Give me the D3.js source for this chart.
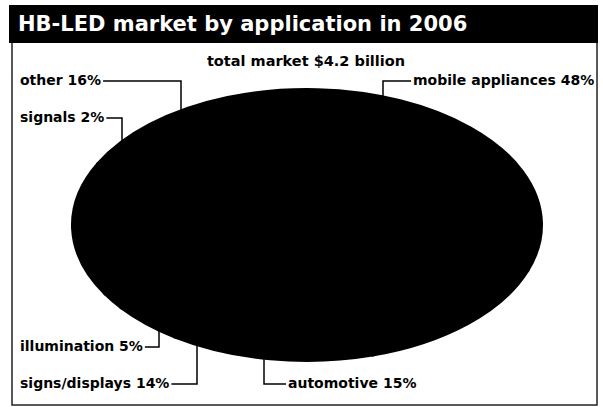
<!DOCTYPE html>
<html lang="en">
<head>
<meta charset="utf-8">
<title>HB-LED market by application in 2006</title>
<script src="https://d3js.org/d3.v7.min.js"></script>
<style>
  body { margin: 0; background: #fff; }
  text { font-family: "DejaVu Sans", "Liberation Sans", Arial, sans-serif; font-weight: bold; }
</style>
</head>
<body>
<script>
// data
var categories = ["mobile appliances", "automotive", "signs/displays", "illumination", "signals", "other"];
var shares = [48, 15, 14, 5, 2, 16];
var title = "HB-LED market by application in 2006";
var subtitle = "total market $4.2 billion";

// label placement (layout only): text position, elbow x on ellipse, side
var labelPos = {
  "mobile appliances": {x: 413, y: 85, elbow: 383, edge: "top"},
  "automotive":        {x: 288, y: 388, elbow: 264, edge: "bottom"},
  "signs/displays":    {x: 20, y: 388, elbow: 197, edge: "bottom"},
  "illumination":      {x: 20, y: 351, elbow: 159, edge: "bottom"},
  "signals":           {x: 20, y: 122, elbow: 122, edge: "top"},
  "other":             {x: 20, y: 85, elbow: 181, edge: "top"}
};

var w = 603, h = 407;
var svg = d3.select("body").append("svg").attr("width", w).attr("height", h);

// frame
svg.append("rect").attr("x", 12).attr("y", 40).attr("width", 585).attr("height", 365)
  .attr("fill", "none").attr("stroke", "#222").attr("stroke-width", 1.5);
svg.append("rect").attr("x", 9).attr("y", 5).attr("width", 589).attr("height", 38).attr("fill", "#000");
svg.append("text").attr("x", 18).attr("y", 31).attr("fill", "#fff")
  .style("font-size", "21px").text(title);
svg.append("text").attr("x", 306).attr("y", 66).attr("text-anchor", "middle")
  .style("font-size", "14.5px").text(subtitle);

// pie drawn as an ellipse
var cx = 307, cy = 225, rx = 235, ry = 136;
var pie = d3.pie().sort(null).value(function(d) { return d; })
  .startAngle(-0.35 * Math.PI).endAngle(1.65 * Math.PI);
var arc = d3.arc().innerRadius(0).outerRadius(ry);
var g = svg.append("g").attr("transform", "translate(" + cx + "," + cy + ") scale(" + (rx / ry) + ",1)");
g.selectAll("path").data(pie(shares)).enter().append("path")
  .attr("d", arc).attr("fill", "#000").attr("stroke", "#000")
  .attr("vector-effect", "non-scaling-stroke").attr("stroke-width", 2);

// labels with elbow leader lines
categories.forEach(function(c, i) {
  var p = labelPos[c];
  var t = svg.append("text").attr("x", p.x).attr("y", p.y)
    .style("font-size", "14px").text(c + " " + shares[i] + "%");
  var tw = t.node().getComputedTextLength();
  var dx = (p.elbow - cx) / rx;
  var ey = cy + (p.edge === "top" ? -1 : 1) * ry * Math.sqrt(1 - dx * dx);
  ey += (p.edge === "top" ? 3 : -3);
  var ly = p.y - 4;
  var tx = p.elbow < p.x ? p.x - 2 : p.x + tw + 2;
  svg.append("path")
    .attr("d", "M" + tx + "," + ly + "H" + p.elbow + "V" + ey)
    .attr("fill", "none").attr("stroke", "#000").attr("stroke-width", 1.5);
});
</script>
</body>
</html>
